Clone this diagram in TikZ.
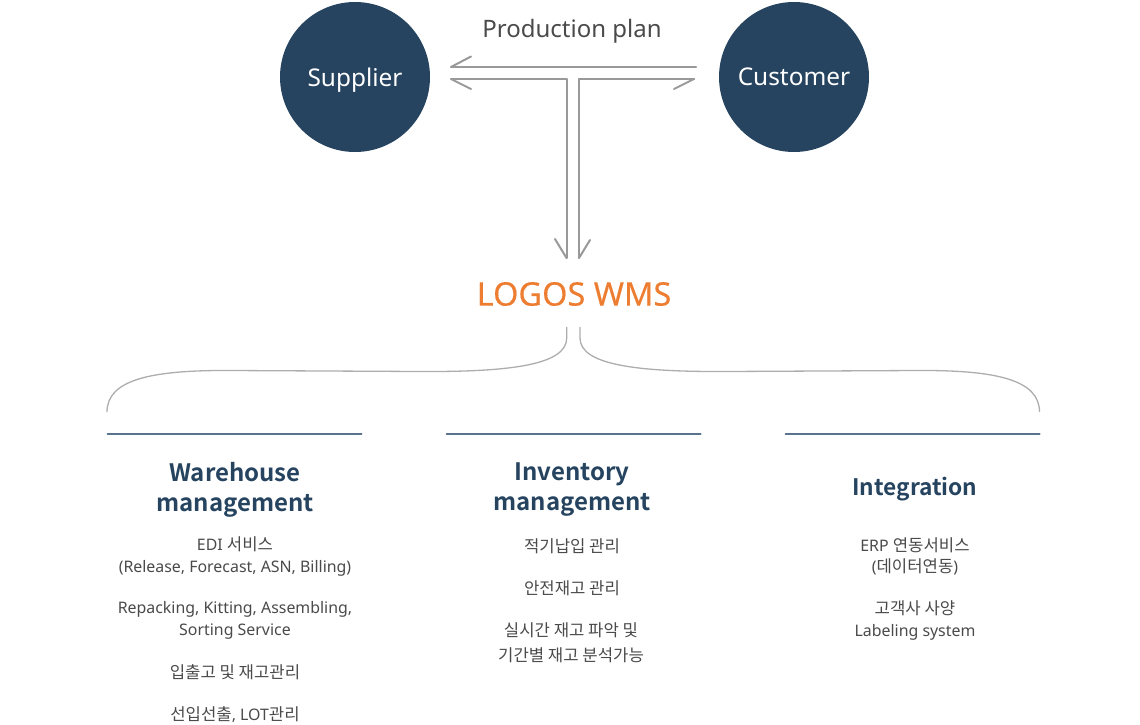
\documentclass[tikz,border=0pt]{standalone}
\usepackage{fontspec}
\usepackage{tikz}
\usepackage{tkz-euclide}
\usetikzlibrary{calc}
\usetikzlibrary{positioning}
\setmainfont{Noto Sans}
\newfontfamily\kofont[Scale=1.05]{Noto Sans CJK KR}
\newfontfamily\headfont{Noto Sans CJK KR Bold}
\newfontfamily\semifont[FakeBold=0.35]{Noto Sans}
\newcommand{\ko}[1]{{\kofont #1}}
\definecolor{mynavy}{HTML}{26445F}
\definecolor{myrule}{HTML}{5B728D}
\definecolor{mygray}{HTML}{999999}
\definecolor{mycurve}{HTML}{ADADAD}
\definecolor{mytext}{HTML}{4A4A4A}
\definecolor{myorange}{HTML}{ED7D31}
\tikzset{
  party/.style={circle,fill=mynavy,text=white,minimum size=150pt,inner sep=0pt,text height=17pt,text depth=0pt,font=\fontsize{24.4}{28}\selectfont},
  heading/.style={text=mynavy,align=center,inner sep=0pt,font=\fontsize{24}{30}\selectfont\headfont},
  bodytext/.style={text=mytext,align=center,inner sep=0pt,font=\fontsize{15.9}{21.5}\selectfont},
  pipe/.style={draw=mygray,line width=2pt},
  bracecurve/.style={draw=mycurve,line width=1.3pt},
  headrule/.style={draw=myrule,line width=2pt},
}

\begin{document}
\begin{tikzpicture}[%
  x=1pt,
  y=-1pt,
]
  \useasboundingbox (0,0) rectangle (1140,725);

  \node[party,text height=19pt] (supplier) at (355,77) {Supplier};
  \node[party] (customer) at (794,77) {Customer};

  \node[text=mytext,inner sep=0pt,font=\fontsize{24}{28}\selectfont] (plan) at (572,31) {Production plan};
  \node[text=myorange,inner sep=0pt,font=\fontsize{32.5}{36}\selectfont\semifont] (wms) at (574,294) {LOGOS WMS};

  % double arrow
  \tkzDefPoint(696,67){a0}
  \tkzDefPoint(451,67){a1}
  \tkzDefPoint(471,56.5){a2}
  \tkzDefPoint(451,79){b0}
  \tkzDefPoint(471,89){b1}
  \tkzDefPoint(566.5,79){b2}
  \tkzDefPoint(566.5,258){b3}
  \tkzDefPoint(555,239){b4}
  \tkzDefPoint(694,79){c0}
  \tkzDefPoint(674,89){c1}
  \tkzDefPoint(579,79){c2}
  \tkzDefPoint(579,258){c3}
  \tkzDefPoint(590,240){c4}

  \tkzDrawSegments[pipe](a0,a1 a1,a2)
  \tkzDrawSegments[pipe](b1,b0 b0,b2 b2,b3 b3,b4)
  \tkzDrawSegments[pipe](c1,c0 c0,c2 c2,c3 c3,c4)

  % braces
  \draw[bracecurve] (566.7,327) -- (566.7,338) .. controls (566.7,365) and (510,372) .. (420,371.5)
    -- (230,370.5) .. controls (150,370) and (107,380) .. (107,412);
  \draw[bracecurve] (580,327) -- (580,338) .. controls (580,365) and (637,372) .. (727,371.5)
    -- (917,370.5) .. controls (997,370) and (1039.5,380) .. (1039.5,412);

  \tkzDefPoint(107.5,434){r0}
  \tkzDefPoint(361.5,434){r1}
  \tkzDefPoint(446.5,434){r2}
  \tkzDefPoint(700.5,434){r3}
  \tkzDefPoint(785.5,434){r4}
  \tkzDefPoint(1039.5,434){r5}
  \tkzDrawSegments[headrule](r0,r1 r2,r3 r4,r5)

  \node[heading] (warehouse) at (235,489.5) {Warehouse\\management};
  \node[heading] (inventory) at (572,489.5) {Inventory\\management};
  \node[heading,font=\fontsize{22.7}{30}\selectfont\headfont] (integration) at (915,489.5) {Integration};

  \node[bodytext] (edi) at (235,556.5) {EDI \ko{서비스}\\(Release, Forecast, ASN, Billing)};
  \node[bodytext] (repack) at (235,620.5) {Repacking, Kitting, Assembling,\\Sorting Service};
  \node[bodytext] (stock) at (235,672) {\ko{입출고 및 재고관리}};
  \node[bodytext] (lot) at (235,715) {\ko{선입선출}, LOT\ko{관리}};

  \node[bodytext] (jit) at (572,546) {\ko{적기납입 관리}};
  \node[bodytext] (safety) at (572,588) {\ko{안전재고 관리}};
  \node[bodytext] (realtime) at (571,642.5) {\ko{실시간 재고 파악 및}\\[3pt]\ko{기간별 재고 분석가능}};

  \node[bodytext] (erp) at (915,556.5) {ERP \ko{연동서비스}\\(\ko{데이터연동})};
  \node[bodytext] (label) at (915,620.5) {\ko{고객사 사양}\\Labeling system};

\end{tikzpicture}
\end{document}
